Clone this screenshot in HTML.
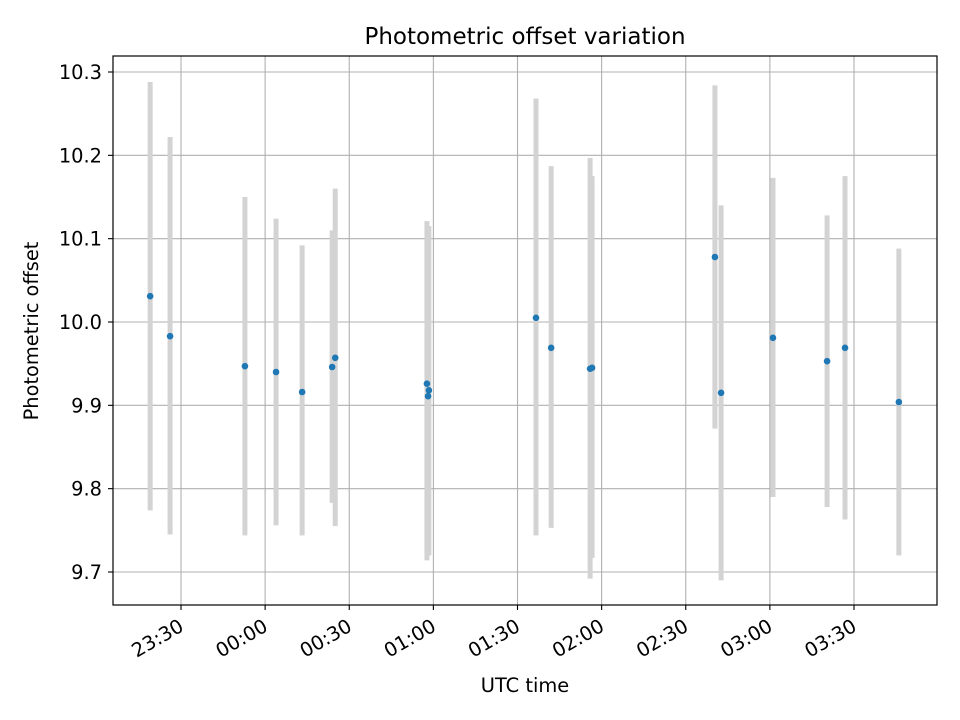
<!DOCTYPE html>
<html><head><meta charset="utf-8"><style>
body{margin:0;background:#fff}
svg{display:block;font-family:"DejaVu Sans","Liberation Sans",sans-serif}
</style></head><body>
<svg id="chart" width="960" height="720" viewBox="0 0 960 720">
<rect x="0" y="0" width="960" height="720" fill="#fff"/>
<text x="525" y="44" font-size="23" text-anchor="middle">Photometric offset variation</text>
<g id="grid"></g><g id="bars"></g><g id="pts"></g><g id="axes"></g>
<rect x="113" y="56" width="824" height="549" fill="none" stroke="#000" stroke-width="1.2"/>
<text x="525" y="692" font-size="19.4" text-anchor="middle">UTC time</text>
<text transform="translate(38,331) rotate(-90)" font-size="19.4" text-anchor="middle">Photometric offset</text>
</svg>
<script>
// minutes after 23:30
const times=[-11,-3.9,22.8,33.9,43.2,53.9,55,87.7,88.4,88.1,126.6,132,145.9,146.6,190.4,192.6,211.1,230.4,236.8,256];
const values=[10.031,9.983,9.947,9.940,9.916,9.946,9.957,9.926,9.918,9.911,10.005,9.969,9.944,9.945,10.078,9.915,9.981,9.953,9.969,9.904];
const upper=[10.288,10.222,10.150,10.124,10.092,10.110,10.160,10.121,10.115,10.112,10.268,10.187,10.197,10.175,10.284,10.140,10.173,10.128,10.175,10.088];
const lower=[9.774,9.745,9.744,9.756,9.744,9.783,9.755,9.714,9.720,9.722,9.744,9.753,9.692,9.717,9.872,9.690,9.790,9.778,9.763,9.720];
const xTickLabels=["23:30","00:00","00:30","01:00","01:30","02:00","02:30","03:00","03:30"];
const xTickMinutes=[0,30,60,90,120,150,180,210,240];
const yTicks=[9.7,9.8,9.9,10.0,10.1,10.2,10.3];
const yTickLabels=["9.7","9.8","9.9","10.0","10.1","10.2","10.3"];
const NS="http://www.w3.org/2000/svg";
const X=m=>181+m*84.125/30;
const Y=v=>72+(10.3-v)*833.33;
function mk(t,a,p){const e=document.createElementNS(NS,t);for(const k in a)e.setAttribute(k,a[k]);p.appendChild(e);return e;}
const grid=document.getElementById('grid'),axes=document.getElementById('axes');
xTickMinutes.forEach((m,i)=>{
 const x=X(m);
 const g=mk('line',{x1:x,x2:x,y1:56,y2:605,stroke:'#b0b0b0','stroke-width':1.1},grid);
 
 
 const t=mk('line',{x1:x,x2:x,y1:605,y2:610,stroke:'#000','stroke-width':1.1},axes);
 
 
 const l=mk('text',{transform:`translate(${x+4},630) rotate(-30)`,'font-size':19.4,'text-anchor':'end'},axes);
 l.textContent=xTickLabels[i];
 
 
});
yTicks.forEach((v,i)=>{
 const y=Y(v);
 const g=mk('line',{x1:113,x2:937,y1:y,y2:y,stroke:'#b0b0b0','stroke-width':1.1},grid);
 
 
 const t=mk('line',{x1:108,x2:113,y1:y,y2:y,stroke:'#000','stroke-width':1.1},axes);
 
 
 const l=mk('text',{x:102,y:y+7,'font-size':19.4,'text-anchor':'end'},axes);
 l.textContent=yTickLabels[i];
 
 
});
const bars=document.getElementById('bars'),pts=document.getElementById('pts');
times.forEach((m,i)=>{
 const x=X(m);
 const b=mk('line',{x1:x,x2:x,y1:Y(upper[i]),y2:Y(lower[i]),stroke:'#d3d3d3','stroke-width':5},bars);
 
 
 const c=mk('circle',{cx:x,cy:Y(values[i]),r:3.3,fill:'#1f77b4'},pts);
 
 
});
</script>
</body></html>
